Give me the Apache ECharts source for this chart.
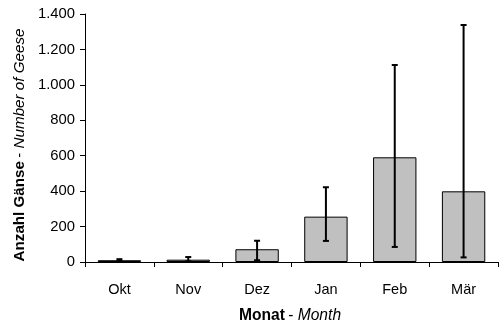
<!DOCTYPE html>
<html>
<head>
<meta charset="utf-8">
<script src="https://cdn.jsdelivr.net/npm/echarts@6/dist/echarts.min.js"></script>
<style>
  html, body { margin: 0; padding: 0; background: #fff; }
  #chart { width: 499px; height: 322px; }
</style>
</head>
<body>
<div id="chart"></div>
<script>
// Monthly goose counts: mean with min/max range
const months = ['Okt', 'Nov', 'Dez', 'Jan', 'Feb', 'Mär'];
const meanCount = [10, 13, 72, 256, 591, 399];
const rangeLow = [5, 4, 10, 119, 85, 26];
const rangeHigh = [16, 28, 120, 422, 1112, 1338];
const yTicks = [0, 200, 400, 600, 800, 1000, 1200, 1400];

const FONT = 'Liberation Sans, Arial, sans-serif';

const chart = echarts.init(document.getElementById('chart'), null, { renderer: 'canvas' });

const errorData = months.map((m, i) => [i, rangeLow[i], rangeHigh[i]]);

function titleRich(size) {
  return {
    b: { fontFamily: FONT, fontSize: size, fontWeight: 'bold', color: '#000' },
    n: { fontFamily: FONT, fontSize: size, color: '#000' },
    i: { fontFamily: FONT, fontSize: size, fontStyle: 'italic', color: '#000' }
  };
}

chart.setOption({
  animation: false,
  grid: { left: 85, right: 1, top: 14, bottom: 60, containLabel: false, outerBoundsMode: 'none' },
  xAxis: {
    type: 'category',
    data: months,
    boundaryGap: true,
    axisLine: { lineStyle: { color: '#000', width: 1 } },
    axisTick: { show: true, length: 5, lineStyle: { color: '#000' } },
    axisLabel: { color: '#000', fontFamily: FONT, fontSize: 14.5, margin: 20 },
    name: '{b|Monat} {n|- }{i|Month}',
    nameLocation: 'middle',
    nameGap: 46,
    nameTextStyle: { padding: [0, 3, 0, 0], rich: titleRich(15.6) }
  },
  yAxis: {
    type: 'value',
    min: yTicks[0],
    max: yTicks[yTicks.length - 1],
    interval: yTicks[1] - yTicks[0],
    splitLine: { show: false },
    axisLine: { show: true, lineStyle: { color: '#000', width: 1 } },
    axisTick: { show: true, length: 5, lineStyle: { color: '#000' } },
    axisLabel: {
      color: '#000', fontFamily: FONT, fontSize: 14.8, margin: 10,
      formatter: v => v >= 1000 ? Math.floor(v / 1000) + '.' + String(v % 1000).padStart(3, '0') : String(v)
    },
    name: '{b|Anzahl Gänse} {n|- }{i|Number of Geese}',
    nameLocation: 'middle',
    nameGap: 57,
    nameRotate: 90,
    nameTextStyle: { padding: [0, 14, 0, 0], rich: titleRich(15.2) }
  },
  series: [
    {
      type: 'bar',
      data: meanCount,
      barWidth: '63%',
      itemStyle: { color: '#c0c0c0', borderColor: '#000', borderWidth: 1 }
    },
    {
      type: 'custom',
      data: errorData,
      z: 10,
      renderItem: function (params, api) {
        const x = api.value(0);
        const lo = api.coord([x, api.value(1)]);
        const hi = api.coord([x, api.value(2)]);
        const cap = 3;
        const style = { stroke: '#000', lineWidth: 2 };
        return {
          type: 'group',
          children: [
            { type: 'line', shape: { x1: lo[0], y1: lo[1], x2: hi[0], y2: hi[1] }, style },
            { type: 'line', shape: { x1: hi[0] - cap, y1: hi[1], x2: hi[0] + cap, y2: hi[1] }, style },
            { type: 'line', shape: { x1: lo[0] - cap, y1: lo[1], x2: lo[0] + cap, y2: lo[1] }, style }
          ]
        };
      }
    }
  ]
});
</script>
</body>
</html>
